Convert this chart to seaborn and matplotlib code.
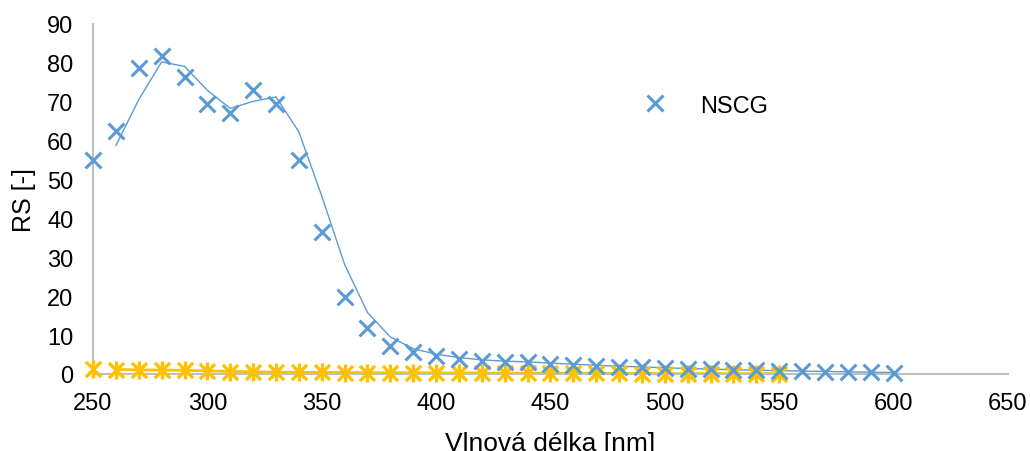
import numpy as np
import pandas as pd
import seaborn as sns
import matplotlib.pyplot as plt
from matplotlib.ticker import MultipleLocator
from matplotlib.lines import Line2D

# vlnove delky [nm]
wl_nscg = np.arange(250, 610, 10)
rs_nscg = [55.0, 62.4, 78.7, 81.8, 76.4, 69.5, 67.1, 73.1, 69.4, 55.1,
           36.4, 19.9, 11.7, 7.3, 5.7, 4.5, 3.9, 3.4, 3.2, 3.0,
           2.6, 2.4, 2.1, 1.9, 1.7, 1.5, 1.3, 1.2, 1.0, 0.9,
           0.8, 0.7, 0.6, 0.5, 0.4, 0.35]

wl_ref = np.arange(250, 560, 10)
rs_ref = [1.2, 1.1, 1.0, 1.0, 0.9, 0.7, 0.6, 0.5, 0.45, 0.4,
          0.4, 0.35, 0.3, 0.3, 0.3, 0.25, 0.25, 0.2, 0.2, 0.2,
          0.2, 0.15, 0.15, 0.15, 0.1, 0.1, 0.1, 0.1, 0.1, 0.1, 0.1]

BLUE = "#5B9BD5"
YELLOW = "#FFC000"
GRID = "#BFBFBF"

df1 = pd.DataFrame({"wl": wl_nscg, "rs": rs_nscg})
df1["ma"] = df1["rs"].rolling(2).mean()
df2 = pd.DataFrame({"wl": wl_ref, "rs": rs_ref})
df2["ma"] = df2["rs"].rolling(2).mean()

sns.set_style("white")
plt.rcParams["font.family"] = ["Liberation Sans", "DejaVu Sans"]
plt.rcParams["text.color"] = "black"
plt.rcParams["axes.labelcolor"] = "black"

fig = plt.figure(figsize=(10.3, 4.52), dpi=100)
ax = fig.add_axes([0.0903, 0.1704, 0.8883, 0.7743])

# klouzavy prumer (2 body)
sns.lineplot(data=df2.dropna(), x="wl", y="ma", color=YELLOW, linewidth=2.0, ax=ax)
sns.lineplot(data=df1.dropna(), x="wl", y="ma", color=BLUE, linewidth=1.0, ax=ax)

pts = []
pts.append(sns.scatterplot(data=df2, x="wl", y="rs", marker="x", s=120, color=YELLOW,
                           linewidth=2.4, ax=ax, zorder=3).collections[-1])
pts.append(sns.scatterplot(data=df2, x="wl", y="rs", marker="|", s=160, color=YELLOW,
                           linewidth=2.4, ax=ax, zorder=3).collections[-1])
pts.append(sns.scatterplot(data=df1, x="wl", y="rs", marker="x", s=130, color=BLUE,
                           linewidth=2.2, ax=ax, zorder=4).collections[-1])
for c in pts:
    c.set_clip_on(False)

ax.set_xlim(250, 650)
ax.set_ylim(0, 90)
ax.xaxis.set_major_locator(MultipleLocator(50))
ax.xaxis.set_minor_locator(MultipleLocator(10))
ax.yaxis.set_major_locator(MultipleLocator(10))
ax.yaxis.set_minor_locator(MultipleLocator(2))

for s in ["top", "right"]:
    ax.spines[s].set_visible(False)
for s in ["left", "bottom"]:
    ax.spines[s].set_color(GRID)
    ax.spines[s].set_linewidth(1.5)

ax.tick_params(axis="both", which="both", direction="out", color=GRID,
               width=1.2, labelsize=17, labelcolor="black")
ax.tick_params(axis="both", which="major", length=5)
ax.tick_params(axis="both", which="minor", length=5)
ax.tick_params(axis="y", which="major", pad=9)
ax.tick_params(axis="x", which="major", pad=8)

ax.set_xlabel("Vlnová délka [nm]", fontsize=19, labelpad=12)
ax.set_ylabel("RS [-]", fontsize=18, labelpad=8)

handle = Line2D([], [], linestyle="none", marker="x", markersize=11,
                markeredgewidth=2.2, color=BLUE)
ax.legend([handle], ["NSCG"], loc="center left", frameon=False, fontsize=17,
          bbox_to_anchor=(0.565, 0.767), handletextpad=0.9)

fig.savefig("out.png", dpi=100)
